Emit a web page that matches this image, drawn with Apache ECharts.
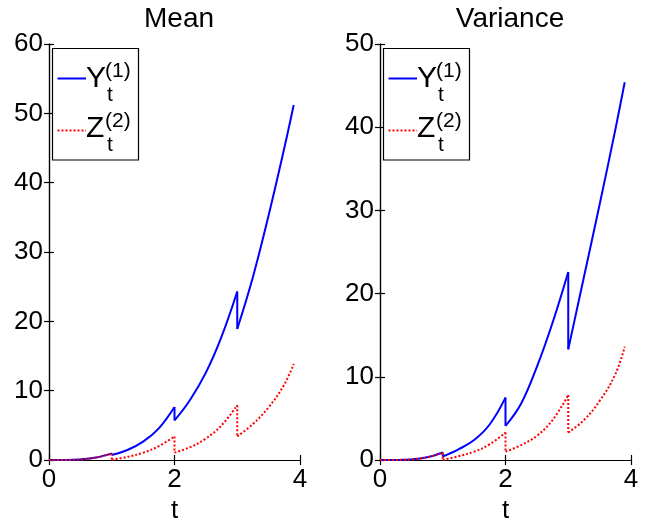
<!DOCTYPE html>
<html>
<head>
<meta charset="utf-8">
<script src="https://cdn.jsdelivr.net/npm/echarts@6/dist/echarts.min.js"></script>
<style>html,body{margin:0;padding:0;background:#fff}#c{width:666px;height:521px}</style>
</head>
<body>
<div id="c"></div>
<script>
// time points (duplicates mark the jumps at t = 1, 2, 3)
const tPoints = [0, 0.25, 0.5, 0.75, 1, 1, 1.25, 1.5, 1.75, 2, 2, 2.25, 2.5, 2.75, 3, 3, 3.25, 3.5, 3.75, 3.9];
const meanY = [0, 0.01, 0.08, 0.35, 0.96, 0.72, 1.44, 2.64, 4.57, 7.65, 5.7, 8.7, 12.6, 17.8, 24.3, 18.9, 26.4, 35.3, 45.0, 51.2];
const meanZ = [0, 0.01, 0.08, 0.35, 0.93, 0.02, 0.45, 1.05, 2.0, 3.4, 1.06, 1.85, 3.1, 5.0, 7.9, 3.4, 5.2, 7.6, 10.9, 13.85];
const varY  = [0, 0.01, 0.07, 0.32, 0.9, 0.42, 1.28, 2.4, 4.3, 7.5, 4.1, 6.8, 11.2, 16.5, 22.6, 13.3, 22.0, 30.7, 39.7, 45.4];
const varZ  = [0, 0.01, 0.07, 0.32, 0.88, 0.02, 0.45, 1.0, 1.9, 3.3, 1.0, 1.8, 2.9, 4.8, 7.8, 3.3, 4.8, 7.1, 10.3, 13.6];
const titles = ['Mean', 'Variance'];
const xTicks = {min: 0, max: 4, interval: 2};
const yMaxes = [60, 50];
const yInterval = 10;

// smooth pieces between jumps, separated by gaps
function curvePieces(ys) {
  const out = [];
  tPoints.forEach((t, i) => {
    if (i > 0 && tPoints[i - 1] === t) out.push([t, null]);
    out.push([t, ys[i]]);
  });
  return out;
}
// vertical jumps at repeated t values
function jumpPieces(ys) {
  const out = [];
  tPoints.forEach((t, i) => {
    if (i > 0 && tPoints[i - 1] === t) {
      if (out.length) out.push([t, null]);
      out.push([t, ys[i - 1]], [t, ys[i]]);
    }
  });
  return out;
}
const FONT = 'Liberation Sans, Arial, Helvetica, sans-serif';

const chart = echarts.init(document.getElementById('c'), null, {renderer: 'canvas'});
const grids = [
  {left: 49, top: 44, width: 251, height: 416, containLabel: false, outerBoundsMode: 'none'},
  {left: 380, top: 44, width: 251, height: 416, containLabel: false, outerBoundsMode: 'none'}
];
const xAxes = [], yAxes = [];
const axisLine = {show: true, lineStyle: {color: '#000', width: 1.2}};
const tick = {show: true, inside: true, length: 5, lineStyle: {color: '#000', width: 1.2}};
for (let g = 0; g < 2; g++) {
  xAxes.push({type: 'value', gridIndex: g, position: 'bottom', min: xTicks.min, max: xTicks.max, interval: xTicks.interval,
    axisLine, axisTick: tick, splitLine: {show: false},
    axisLabel: {fontSize: 26, color: '#000', fontFamily: FONT, margin: 7},
    name: 't', nameLocation: 'middle', nameGap: 30, nameTextStyle: {fontSize: 26, color: '#000', fontFamily: FONT}});
  xAxes.push({type: 'value', gridIndex: g, position: 'top', min: xTicks.min, max: xTicks.max, interval: xTicks.interval,
    axisLine, axisTick: tick, splitLine: {show: false}, axisLabel: {show: false}});
  yAxes.push({type: 'value', gridIndex: g, position: 'left', min: 0, max: yMaxes[g], interval: yInterval,
    axisLine, axisTick: tick, splitLine: {show: false},
    axisLabel: {fontSize: 26, color: '#000', fontFamily: FONT, margin: 6}});
  yAxes.push({type: 'value', gridIndex: g, position: 'right', min: 0, max: yMaxes[g], interval: yInterval,
    axisLine, axisTick: tick, splitLine: {show: false}, axisLabel: {show: false}});
}
const series = [];
function addLine(ys, g, color, dotted) {
  const lineStyle = {color, width: 2, type: dotted ? [2, 2] : 'solid'};
  series.push({type: 'line', data: curvePieces(ys), xAxisIndex: g * 2, yAxisIndex: g * 2,
    showSymbol: false, symbol: 'none', smooth: 0.4, connectNulls: false, animation: false, lineStyle});
  series.push({type: 'line', data: jumpPieces(ys), xAxisIndex: g * 2, yAxisIndex: g * 2,
    showSymbol: false, symbol: 'none', smooth: false, connectNulls: false, animation: false, lineStyle});
}
addLine(meanY, 0, '#0000ff', false);
addLine(meanZ, 0, '#ff0000', true);
addLine(varY, 1, '#0000ff', false);
addLine(varZ, 1, '#ff0000', true);

// legend drawn as graphic (needs stacked sub/superscripts)
const graphic = [];
function legend(dx, sups) {
  graphic.push({type: 'rect', shape: {x: 52.5 + dx, y: 48.5, width: 86, height: 111.5},
    style: {fill: '#fff', stroke: '#000', lineWidth: 1.2}, z: 100});
  graphic.push({type: 'line', shape: {x1: 57.5 + dx, y1: 78.5, x2: 86 + dx, y2: 78.5},
    style: {stroke: '#0000ff', lineWidth: 2}, z: 101});
  graphic.push({type: 'line', shape: {x1: 57.5 + dx, y1: 130.5, x2: 86 + dx, y2: 130.5},
    style: {stroke: '#ff0000', lineWidth: 2, lineDash: [2, 2]}, z: 101});
  const rows = [{main: 'Y', sup: sups[0], y: 79}, {main: 'Z', sup: sups[1], y: 129}];
  rows.forEach(r => {
    graphic.push({type: 'text', z: 102, style: {text: r.main, x: 86 + dx, y: r.y, font: '30px ' + FONT, fill: '#000', textAlign: 'left', textVerticalAlign: 'middle'}});
    graphic.push({type: 'text', z: 102, style: {text: r.sup, x: 105 + dx, y: r.y - 8, font: '21px ' + FONT, fill: '#000', textAlign: 'left', textVerticalAlign: 'middle'}});
    graphic.push({type: 'text', z: 102, style: {text: 't', x: 107 + dx, y: r.y + 16, font: '21px ' + FONT, fill: '#000', textAlign: 'left', textVerticalAlign: 'middle'}});
  });
}
legend(0, ['(1)', '(2)']);
legend(331, ['(1)', '(2)']);

chart.setOption({
  animation: false,
  backgroundColor: '#fff',
  title: [
    {text: titles[0], left: 174, top: 0, textAlign: 'center', textStyle: {fontSize: 28, fontWeight: 'normal', color: '#000', fontFamily: FONT}},
    {text: titles[1], left: 505, top: 0, textAlign: 'center', textStyle: {fontSize: 28, fontWeight: 'normal', color: '#000', fontFamily: FONT}}
  ],
  grid: grids,
  xAxis: xAxes,
  yAxis: yAxes,
  series,
  graphic
});
</script>
</body>
</html>
